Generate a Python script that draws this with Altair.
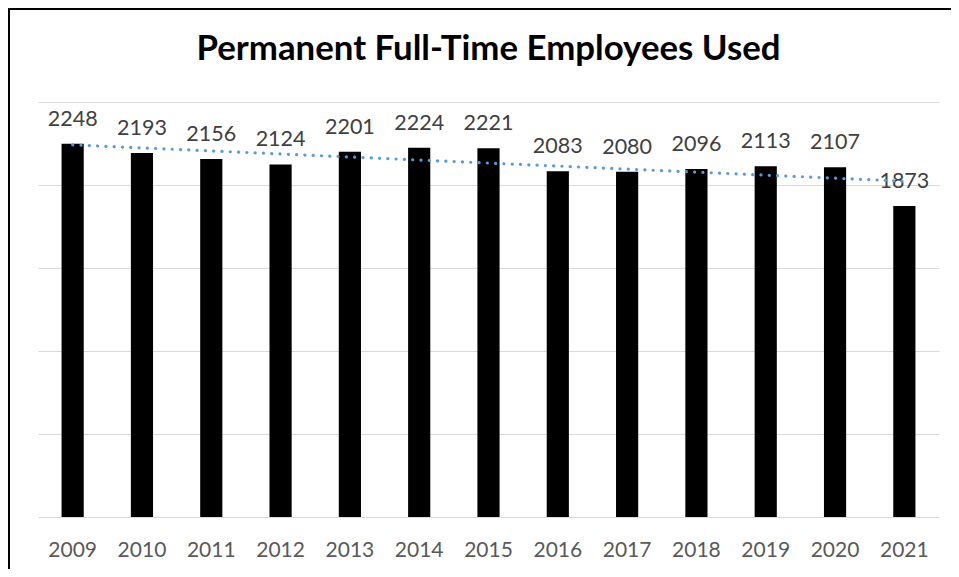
import altair as alt
import pandas as pd
import numpy as np

# ---- data ----
years = ["2009", "2010", "2011", "2012", "2013", "2014", "2015",
         "2016", "2017", "2018", "2019", "2020", "2021"]
employees = [2248, 2193, 2156, 2124, 2201, 2224, 2221,
             2083, 2080, 2096, 2113, 2107, 1873]
grid_values = [0, 500, 1000, 1500, 2000, 2500]
title_text = "Permanent Full-Time Employees Used"

# linear trendline (as Excel's "Linear" trendline) fitted to the series
idx = np.arange(len(employees))
slope, intercept = np.polyfit(idx, employees, 1)
trend = (slope * idx + intercept).tolist()

df = pd.DataFrame({"Year": years, "Employees": employees, "Trend": trend})

FONT = "Lato"
PLOT_W, PLOT_H = 901, 415
PAD = {"left": 30, "top": 94, "right": 12, "bottom": 52}

x_enc = alt.X(
    "Year:N", sort=years,
    scale=alt.Scale(paddingInner=0.68, paddingOuter=0.34),
    axis=alt.Axis(title=None, labelAngle=0, labelFont=FONT, labelFontSize=21,
                  labelColor="#595959", ticks=False, domain=False,
                  labelPadding=22, grid=False),
)
y_axis = alt.Axis(title=None, labels=False, ticks=False, domain=False,
                  values=grid_values, gridColor="#D9D9D9", gridWidth=1)
y_scale = alt.Scale(domain=[0, 2500], nice=False, zero=True)

base = alt.Chart(df)

bars = base.mark_bar(color="black").encode(
    x=x_enc,
    y=alt.Y("Employees:Q", scale=y_scale, axis=y_axis),
)

labels = base.mark_text(
    dy=-18, baseline="alphabetic", font=FONT, fontSize=21.5, color="#404040"
).encode(
    x=x_enc,
    y=alt.Y("Employees:Q", scale=y_scale, axis=y_axis),
    text="Employees:Q",
)

trendline = base.mark_line(
    color="#5B9BD5", strokeWidth=3.2, strokeDash=[0.1, 8.2], strokeCap="round"
).encode(
    x=x_enc,
    y=alt.Y("Trend:Q", scale=y_scale, axis=y_axis),
)

one_row = alt.Data(values=[{"t": title_text}])

# white strip along the far right edge of the drawing (the reference is cropped there)
edge_cover = alt.Chart(one_row).mark_rule(color="white", strokeWidth=5).encode(
    x=alt.value(PLOT_W + PAD["right"] - 1), y=alt.value(-PAD["top"] - 5),
    y2=alt.value(PLOT_H + PAD["bottom"] + 5),
)

# chart-area border (top and left edges; the rest is cropped in the reference)
border_top = alt.Chart(one_row).mark_rule(color="black", strokeWidth=2).encode(
    x=alt.value(-30), x2=alt.value(PLOT_W + PAD["right"] + 10), y=alt.value(-93),
)
border_left = alt.Chart(one_row).mark_rule(color="black", strokeWidth=2).encode(
    x=alt.value(-29), y=alt.value(-94), y2=alt.value(PLOT_H + PAD["bottom"] + 10),
)

title = alt.Chart(one_row).mark_text(
    font=FONT, fontSize=34.8, fontWeight="bold", color="black",
    align="center", baseline="alphabetic",
).encode(
    x=alt.value(PLOT_W / 2), y=alt.value(-42), text="t:N",
)

chart = alt.layer(edge_cover, border_top, border_left, bars, labels, trendline,
                  title).properties(
    width=PLOT_W,
    height=PLOT_H,
    autosize=alt.AutoSizeParams(type="none"),
    padding=PAD,
    background="white",
).configure_view(strokeWidth=0)

chart.save("out.html", embed_options={"renderer": "svg", "actions": False})
